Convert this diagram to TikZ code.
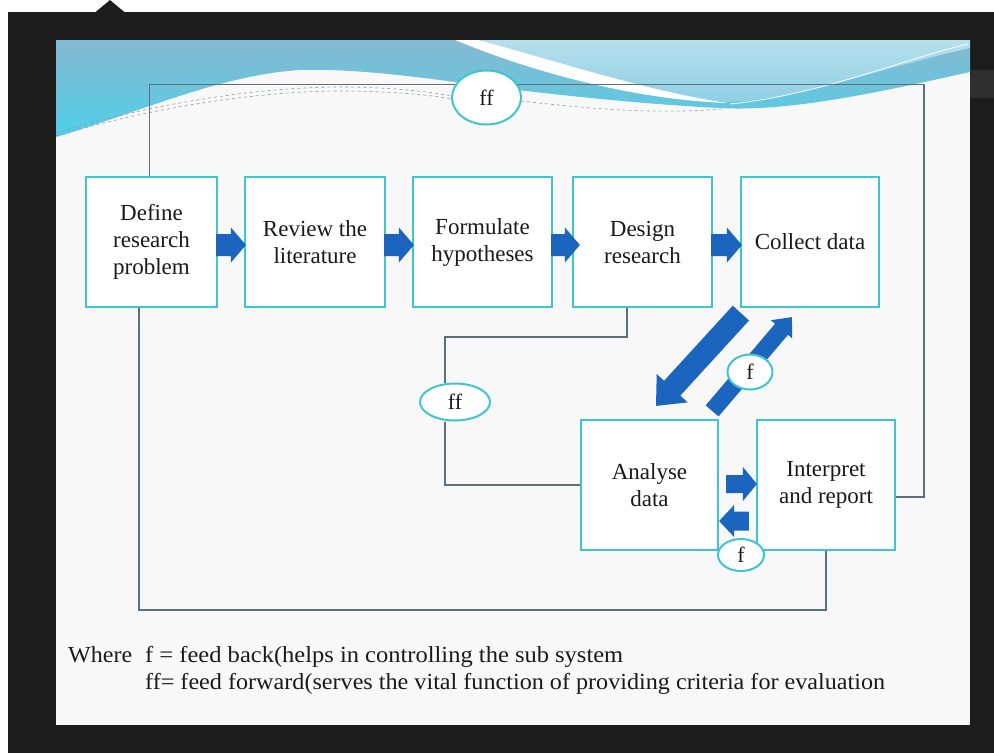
\documentclass[tikz,border=0pt]{standalone}
\usepackage{graphicx}
\usepackage{fontspec}
\setmainfont{Liberation Serif}
\usetikzlibrary{calc,shapes.geometric}
\definecolor{darkbg}{HTML}{1C1C1C}
\definecolor{stripbg}{HTML}{2F2F2F}
\definecolor{slidebg}{HTML}{F8F8F8}
\definecolor{boxcyan}{HTML}{3EC6CF}
\definecolor{arrowblue}{HTML}{1C65BE}
\definecolor{conncol}{HTML}{5E6E7B}
\definecolor{bandtop}{HTML}{86B9D1}
\definecolor{bandbot}{HTML}{4FCFE8}
\definecolor{lighttop}{HTML}{B5DFEB}
\definecolor{lightbot}{HTML}{8FCFE6}
\definecolor{textcol}{HTML}{1A1A1A}
\definecolor{decocol}{HTML}{8C9AA4}
\pgfdeclarelayer{bg}
\pgfsetlayers{bg,main}
\tikzset{
 stepbox/.style={draw=boxcyan, line width=2.2pt, fill=white, minimum height=130pt, inner sep=0pt, align=center, text=textcol, font=\fontsize{23}{27}\selectfont},
 tag/.style={ellipse, draw=boxcyan, line width=2pt, fill=white, inner sep=0pt, text=textcol, font=\fontsize{22}{24}\selectfont},
 conn/.style={draw=conncol, line width=1.3pt},
 deco/.style={draw=decocol, line width=0.6pt, dashed},
 legend/.style={anchor=base west, inner sep=0pt, text=textcol, font=\fontsize{23}{27}\selectfont}
}
\newcommand{\blkarrow}[5]{%
  \coordinate (bhtmp) at ($(#2)!#5!(#1)$);
  \fill[arrowblue] ($(#1)!#3!90:(#2)$) -- ($(bhtmp)!#3!90:(#2)$) -- ($(bhtmp)!#4!90:(#2)$) -- (#2) -- ($(bhtmp)!#4!-90:(#2)$) -- ($(bhtmp)!#3!-90:(#2)$) -- ($(#1)!#3!-90:(#2)$) -- cycle;}
\begin{document}
\begin{tikzpicture}[x=1pt,y=-1pt]
\useasboundingbox (0,0) rectangle (994,753);
\begin{pgfonlayer}{bg}
\fill[white] (0,0) rectangle (994,753);
\fill[darkbg] (8,12) rectangle (994,753);
\fill[darkbg] (95,12.5) -- (110,0) -- (125,12.5) -- cycle;
\fill[stripbg] (970,70) rectangle (994,98);
\fill[slidebg] (56,40) rectangle (970,725);
\shade[top color=bandtop, bottom color=bandbot] (56,40) -- (970,40) -- (970,72) .. controls (880,92) and (790,112) .. (720,108) .. controls (640,104) and (560,95) .. (500,88) .. controls (440,80) and (360,68) .. (300,70) .. controls (220,75) and (140,112) .. (56,137) -- cycle;
\shade[top color=lighttop, bottom color=lightbot] (462,40) -- (970,40) -- (970,48) .. controls (880,68) and (800,100) .. (725,102) .. controls (640,92) and (550,62) .. (462,40) -- cycle;
\fill[white] (455,40) -- (478,40) .. controls (560,62) and (650,92) .. (728,103) .. controls (640,100) and (540,75) .. (455,40) -- cycle;
\draw[white, line width=0.8pt] (730,104) .. controls (820,95) and (900,60) .. (968,44);
\draw[deco] (56,133) .. controls (150,104) and (260,86) .. (350,87) .. controls (400,88) and (430,92) .. (452,96);
\draw[deco] (56,136) .. controls (150,108) and (260,90) .. (350,91) .. controls (400,92) and (430,95) .. (452,99);
\draw[deco] (521,101) .. controls (600,110) and (660,114) .. (722,109);
\end{pgfonlayer}

\node[stepbox, minimum width=131pt] (define) at (151.5,242) {Define\\research\\problem};
\node[stepbox, minimum width=140pt] (review) at (315,242) {Review the\\literature};
\node[stepbox, minimum width=139pt] (formulate) at (482.5,242) {Formulate\\hypotheses};
\node[stepbox, minimum width=139pt] (design) at (642.5,242) {Design\\research};
\node[stepbox, minimum width=138pt] (collect) at (810,242) {Collect data};
\node[stepbox, minimum width=137pt] (analyse) at (649.5,485) {Analyse\\data};
\node[stepbox, minimum width=138pt] (interp) at (826,485) {Interpret\\and report};

\node[tag, minimum width=69pt, minimum height=54pt] (ffTop) at (486.5,97.5) {ff};
\node[tag, minimum width=70pt, minimum height=37pt] (ffMid) at (455,402) {ff};

\coordinate (rc) at (924,497);
\coordinate (m1) at (445,337);
\coordinate (bl) at (139,610);
\begin{pgfonlayer}{bg}
\draw[conn] ($(define.north)+(-2,0)$) |- (ffTop.158);
\draw[conn] (ffTop.22) -| (rc) -- ($(interp.east)+(0,12)$);
\draw[conn] ($(design.south)+(-15.5,0)$) |- (m1) -- (m1 |- ffMid.north);
\draw[conn] (m1 |- ffMid.south) |- (analyse.west);
\draw[conn] (interp.south) |- (bl) -- (bl |- define.south);
\end{pgfonlayer}

% top row arrows
\coordinate (a1s) at ($(define.east)+(-2,3)$);
\coordinate (a1e) at ($(review.west)+(2,3)$);
\blkarrow{a1s}{a1e}{11pt}{17.5pt}{15pt}
\coordinate (a2s) at ($(review.east)+(-2,3)$);
\coordinate (a2e) at ($(formulate.west)+(2,3)$);
\blkarrow{a2s}{a2e}{11pt}{17.5pt}{15pt}
\coordinate (a3s) at ($(formulate.east)+(-2,3)$);
\coordinate (a3e) at ($(design.west)+(8,3)$);
\blkarrow{a3s}{a3e}{11pt}{17.5pt}{15pt}
\coordinate (a4s) at ($(design.east)+(-2,3)$);
\coordinate (a4e) at ($(collect.west)+(2,3)$);
\blkarrow{a4s}{a4e}{11pt}{17.5pt}{15pt}

% diagonal arrows
\coordinate (d1s) at ($(collect.south west)+(1,5)$);
\coordinate (d1e) at ($(analyse.north)+(6.5,-13)$);
\blkarrow{d1s}{d1e}{11pt}{21pt}{24pt}
\coordinate (d2s) at ($(analyse.north east)+(-7,-8)$);
\coordinate (d2e) at ($(collect.south west)+(52,9)$);
\blkarrow{d2s}{d2e}{8.5pt}{14pt}{16pt}

% small horizontal arrows
\coordinate (h1s) at ($(analyse.east)+(7,-1)$);
\coordinate (h1e) at ($(interp.west)+(1,-1)$);
\blkarrow{h1s}{h1e}{9pt}{17pt}{14pt}
\coordinate (h2s) at ($(interp.west)+(-7,36)$);
\coordinate (h2e) at ($(analyse.east)+(0,36)$);
\blkarrow{h2s}{h2e}{9.5pt}{16pt}{15pt}

\node[tag, minimum width=45pt, minimum height=35pt] (fUp) at (750,372) {f};
\node[tag, minimum width=46pt, minimum height=32pt] (fBot) at (741,555) {f};

\node[legend] (where) at (68,662) {\resizebox{64pt}{\height}{Where}};
\node[legend] (leg1) at (145,662) {\resizebox{478pt}{\height}{f = feed back(helps in controlling the sub system}};
\node[legend] (leg2) at (145,689) {\resizebox{740pt}{\height}{ff= feed forward(serves the vital function of providing criteria for evaluation}};
\end{tikzpicture}
\end{document}
